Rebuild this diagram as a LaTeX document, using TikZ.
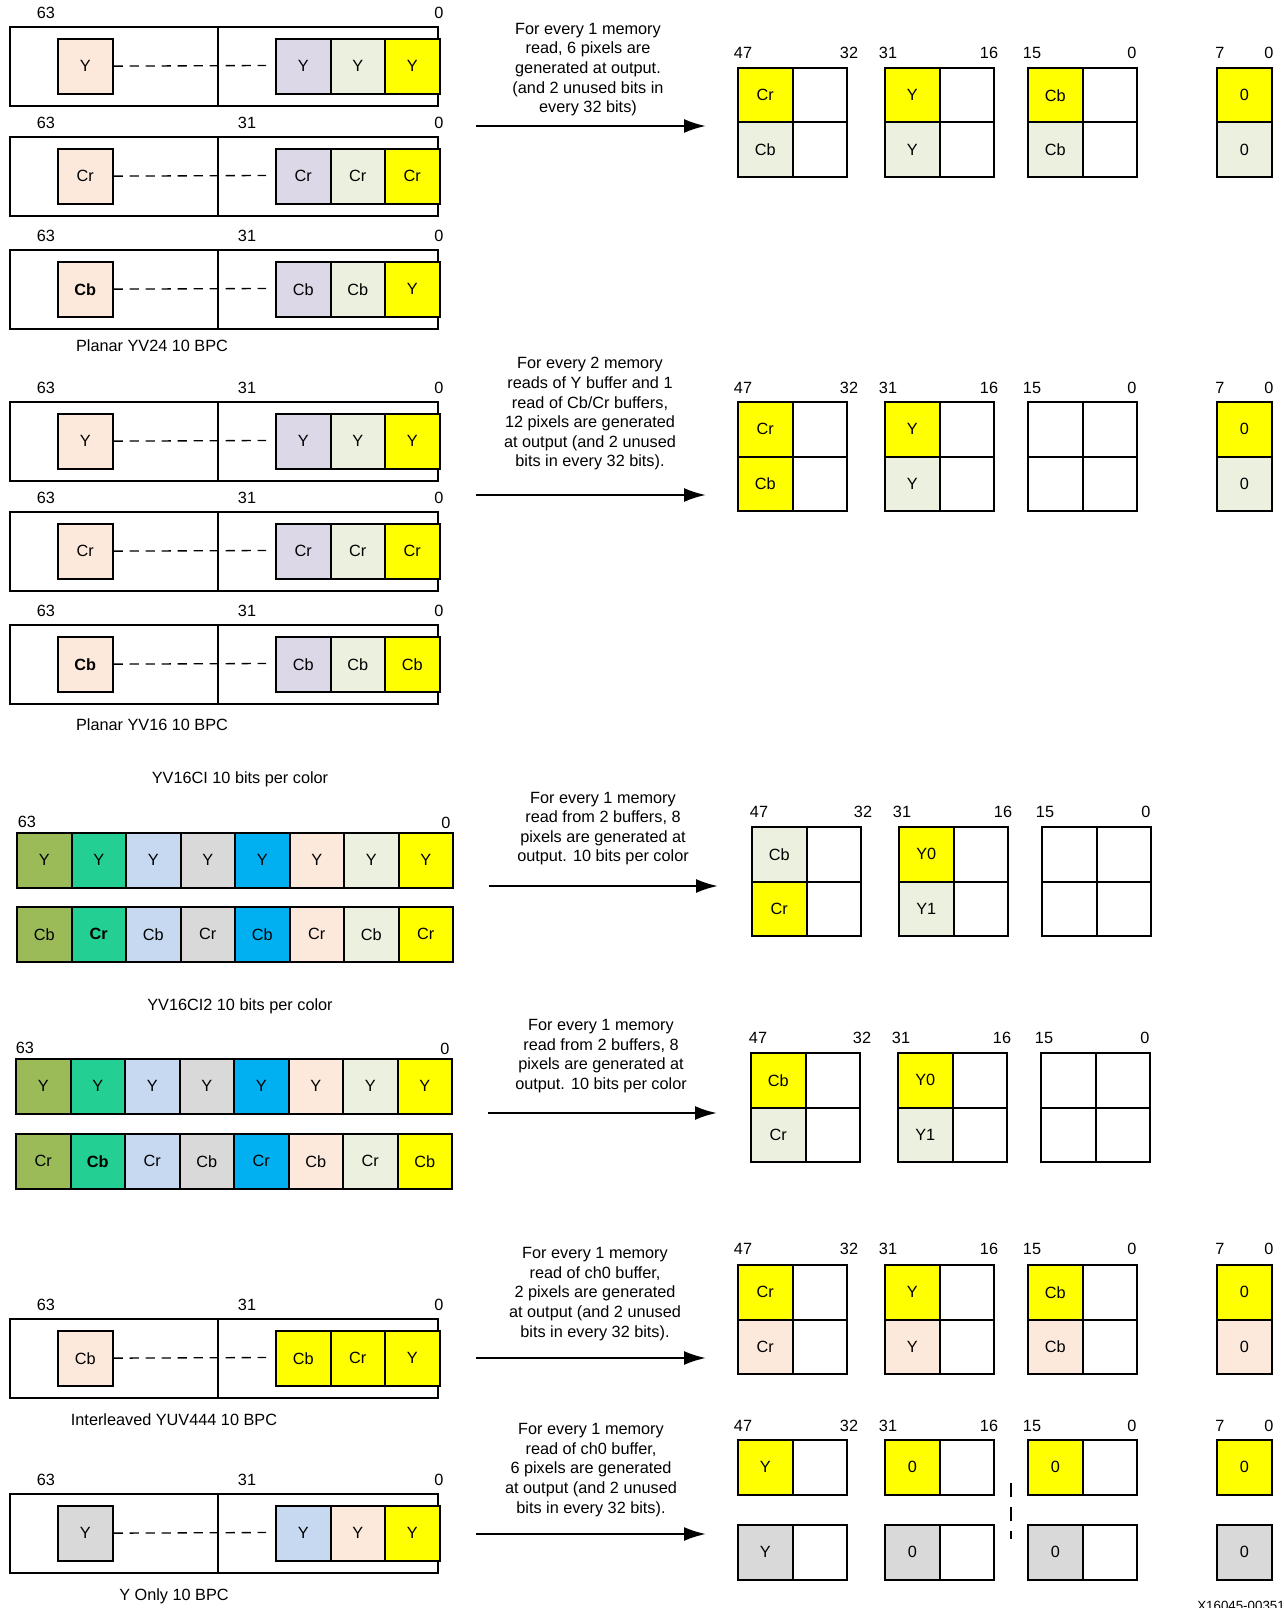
\documentclass[tikz,border=0pt]{standalone}
\usepackage{fontspec}
\setmainfont{Liberation Sans}
\usetikzlibrary{arrows.meta,positioning}
\definecolor{peach}{HTML}{FCE9DC}
\definecolor{lilac}{HTML}{DCD8E8}
\definecolor{mint}{HTML}{EBF1DE}
\definecolor{yel}{HTML}{FFFF00}
\definecolor{olivec}{HTML}{9BBB59}
\definecolor{jade}{HTML}{24CF94}
\definecolor{skyc}{HTML}{C6D9F1}
\definecolor{greyc}{HTML}{D9D9D9}
\definecolor{cyanc}{HTML}{00B0F0}
\begin{document}
\begin{tikzpicture}[x=0.75pt,y=-0.75pt,>={Latex[length=16.5pt,width=10.5pt]},
    font=\fontsize{12.2}{14.7}\selectfont,
    cell/.style={draw,line width=1.5pt,fill=white,minimum width=40.9pt,minimum height=40.9pt,inner sep=0pt,anchor=north west},
    regbox/.style={line width=1.5pt},
    dashlink/.style={dash pattern=on 7pt off 5pt,line width=1pt},
    cutline/.style={dash pattern=on 10.5pt off 7.5pt,line width=1.5pt},
    bitlbl/.style={inner sep=0pt},
    note/.style={align=center,inner sep=0pt},
    flow/.style={->,line width=1.8pt}]
		\useasboundingbox (0,0) rectangle (1283,1608);
		% 64-bit registers with three packed pixels
		\foreach \ry/\rn/\sL/\sA/\sB/\sC/\kL/\kA/\kB/\kC/\sM in {
		    27/ra/Y/Y/Y/Y/peach/lilac/mint/yel/{},
		    137/rb/Cr/Cr/Cr/Cr/peach/lilac/mint/yel/31,
		    250/rc/{\textbf{Cb}}/Cb/Cb/Y/peach/lilac/mint/yel/31,
		    402/rd/Y/Y/Y/Y/peach/lilac/mint/yel/31,
		    512/re/Cr/Cr/Cr/Cr/peach/lilac/mint/yel/31,
		    625/rf/{\textbf{Cb}}/Cb/Cb/Cb/peach/lilac/mint/yel/31,
		    1319/rg/Cb/Cb/Cr/Y/peach/yel/yel/yel/31,
		    1494/rh/Y/Y/Y/Y/greyc/skyc/peach/yel/31}{
		  \draw[regbox] (10,\ry) rectangle (438,\ry+79);
		  \draw[regbox] (218,\ry) -- (218,\ry+79);
		  \node[cell,fill=\kL] (\rn0) at (57,\ry+11) {\sL};
		  \node[cell,fill=\kA] (\rn1) at (275,\ry+11) {\sA};
		  \node[cell,fill=\kB] (\rn2) at (329.5,\ry+11) {\sB};
		  \node[cell,fill=\kC] (\rn3) at (384,\ry+11) {\sC};
		  \coordinate (\rn-end) at (266,\ry+38.5);
		  \draw[dashlink] (\rn0) -- (\rn-end);
		  \node[bitlbl] at (46,\ry-14) {63};
		  \node[bitlbl] at (247,\ry-14) {\sM};
		  \node[bitlbl] at (439,\ry-14) {0};
		}
		\node (capa) at (152,346) {Planar YV24 10 BPC};
		\node (capb) at (152,725) {Planar YV16 10 BPC};
		\node (capg) at (174,1420) {Interleaved YUV444 10 BPC};
		\node (caph) at (174,1596) {Y Only 10 BPC};

		% semi-planar buffers
		\node (capc) at (240,779) {YV16CI 10 bits per color};
		\node[bitlbl] at (27,822) {63};
		\node[bitlbl] at (446,823) {0};
		\foreach \kc/\sy/\sc [count=\i] in {olivec/Y/Cb,jade/Y/{\textbf{Cr}},skyc/Y/Cb,greyc/Y/Cr,cyanc/Y/Cb,peach/Y/Cr,mint/Y/Cb,yel/Y/Cr}{
		  \node[cell,fill=\kc] (ci\i) at ({16+54.5*(\i-1)},832) {\sy};
		  \node[cell,fill=\kc] (cj\i) at ({16+54.5*(\i-1)},906) {\sc};
		}
		\node (capd) at (240,1006) {YV16CI2 10 bits per color};
		\node[bitlbl] at (25,1048) {63};
		\node[bitlbl] at (445,1049) {0};
		\foreach \kc/\sy/\sc [count=\i] in {olivec/Y/Cr,jade/Y/{\textbf{Cb}},skyc/Y/Cr,greyc/Y/Cb,cyanc/Y/Cr,peach/Y/Cb,mint/Y/Cr,yel/Y/Cb}{
		  \node[cell,fill=\kc] (di\i) at ({15+54.5*(\i-1)},1058) {\sy};
		  \node[cell,fill=\kc] (dj\i) at ({15+54.5*(\i-1)},1133) {\sc};
		}

		% captions over the arrows
		\node[note] (ta) at (588,69.5) {For every 1 memory\\read, 6 pixels are\\generated at output.\\(and 2 unused bits in\\every 32 bits)};
		\node[note] (tb) at (590,414) {For every 2 memory\\reads of Y buffer and 1\\read of Cb/Cr buffers,\\12 pixels are generated\\at output (and 2 unused\\bits in every 32 bits).};
		\node[note] (tc) at (603,828.5) {For every 1 memory\\read from 2 buffers, 8\\pixels are generated at\\output. 10 bits per color};
		\node[note] (td) at (601,1056) {For every 1 memory\\read from 2 buffers, 8\\pixels are generated at\\output. 10 bits per color};
		\node[note] (te) at (595,1294) {For every 1 memory\\read of ch0 buffer,\\2 pixels are generated\\at output (and 2 unused\\bits in every 32 bits).};
		\node[note] (tf) at (591,1470) {For every 1 memory\\read of ch0 buffer,\\6 pixels are generated\\at output (and 2 unused\\bits in every 32 bits).};

		\coordinate (ina) at (476,126); \coordinate (outa) at (706,126);
		\coordinate (inb) at (476,495); \coordinate (outb) at (706,495);
		\coordinate (inc) at (489,886); \coordinate (outc) at (718,886);
		\coordinate (ind) at (488,1113); \coordinate (outd) at (717,1113);
		\coordinate (ine) at (476,1358); \coordinate (oute) at (706,1358);
		\coordinate (inf) at (476,1534); \coordinate (outf) at (706,1534);
		\foreach \p in {a,b,c,d,e,f}
		  \draw[flow] (in\p) -- (out\p);

		% output words, YV24
		\foreach \bx/\sA/\kA/\sB/\kB [count=\i] in {0/Cr/yel/Cb/mint,147/Y/yel/Y/mint,290/Cb/yel/Cb/mint}{
		  \node[cell,fill=\kA] (pa\i) at (737+\bx,67) {\sA};
		  \node[cell] (pb\i) at (791.5+\bx,67) {};
		  \node[cell,fill=\kB] (pc\i) at (737+\bx,121.5) {\sB};
		  \node[cell] (pd\i) at (791.5+\bx,121.5) {};
		}
		\node[cell,fill=yel] (pe) at (1216,67) {0};
		\node[cell,fill=mint] (pf) at (1216,121.5) {0};
		\foreach \dx/\bt in {6/47,112/32,151/31,252/16,295/15,395/0,483/7,532/0}
		  \node[bitlbl] at (737+\dx,53) {\bt};

		% output words, YV16
		\foreach \bx/\sA/\kA/\sB/\kB [count=\i] in {0/Cr/yel/Cb/yel,147/Y/yel/Y/mint,290/{}/white/{}/white}{
		  \node[cell,fill=\kA] (qa\i) at (737+\bx,401) {\sA};
		  \node[cell] (qb\i) at (791.5+\bx,401) {};
		  \node[cell,fill=\kB] (qc\i) at (737+\bx,455.5) {\sB};
		  \node[cell] (qd\i) at (791.5+\bx,455.5) {};
		}
		\node[cell,fill=yel] (qe) at (1216,401) {0};
		\node[cell,fill=mint] (qf) at (1216,455.5) {0};
		\foreach \dx/\bt in {6/47,112/32,151/31,252/16,295/15,395/0,483/7,532/0}
		  \node[bitlbl] at (737+\dx,388) {\bt};

		% output words, YV16CI
		\foreach \bx/\sA/\kA/\sB/\kB [count=\i] in {0/Cb/mint/Cr/yel,147/Y0/yel/Y1/mint,290/{}/white/{}/white}{
		  \node[cell,fill=\kA] (va\i) at (751+\bx,826) {\sA};
		  \node[cell] (vb\i) at (805.5+\bx,826) {};
		  \node[cell,fill=\kB] (vc\i) at (751+\bx,880.5) {\sB};
		  \node[cell] (vd\i) at (805.5+\bx,880.5) {};
		}
		\foreach \dx/\bt in {8/47,112/32,151/31,252/16,294/15,395/0}
		  \node[bitlbl] at (751+\dx,812) {\bt};

		% output words, YV16CI2
		\foreach \bx/\sA/\kA/\sB/\kB [count=\i] in {0/Cb/yel/Cr/mint,147/Y0/yel/Y1/mint,290/{}/white/{}/white}{
		  \node[cell,fill=\kA] (wa\i) at (750+\bx,1052) {\sA};
		  \node[cell] (wb\i) at (804.5+\bx,1052) {};
		  \node[cell,fill=\kB] (wc\i) at (750+\bx,1106.5) {\sB};
		  \node[cell] (wd\i) at (804.5+\bx,1106.5) {};
		}
		\foreach \dx/\bt in {8/47,112/32,151/31,252/16,294/15,395/0}
		  \node[bitlbl] at (750+\dx,1038) {\bt};

		% output words, YUV444
		\foreach \bx/\sA [count=\i] in {0/Cr,147/Y,290/Cb}{
		  \node[cell,fill=yel] (xa\i) at (737+\bx,1264) {\sA};
		  \node[cell] (xb\i) at (791.5+\bx,1264) {};
		  \node[cell,fill=peach] (xc\i) at (737+\bx,1318.5) {\sA};
		  \node[cell] (xd\i) at (791.5+\bx,1318.5) {};
		}
		\node[cell,fill=yel] (xe) at (1216,1264) {0};
		\node[cell,fill=peach] (xf) at (1216,1318.5) {0};
		\foreach \dx/\bt in {6/47,112/32,151/31,252/16,295/15,395/0,483/7,532/0}
		  \node[bitlbl] at (737+\dx,1249) {\bt};

		% output words, Y only
		\foreach \bx/\sA [count=\i] in {0/Y,147/0,290/0}{
		  \node[cell,fill=yel] (ua\i) at (737+\bx,1439) {\sA};
		  \node[cell] (ub\i) at (791.5+\bx,1439) {};
		  \node[cell,fill=greyc] (uc\i) at (737+\bx,1524) {\sA};
		  \node[cell] (ud\i) at (791.5+\bx,1524) {};
		}
		\node[cell,fill=yel] (ue) at (1216,1439) {0};
		\node[cell,fill=greyc] (uf) at (1216,1524) {0};
		\foreach \dx/\bt in {6/47,112/32,151/31,252/16,295/15,395/0,483/7,532/0}
		  \node[bitlbl] at (737+\dx,1426) {\bt};
		\coordinate (cuta) at (1011,1483);
		\coordinate (cutb) at (1011,1539);
		\draw[cutline] (cuta) -- (cutb);

		\node[anchor=north west,inner sep=0pt,font=\fontsize{10}{12}\selectfont] (figid) at (1197,1601) {X16045-00351};
	\end{tikzpicture}
\end{document}
